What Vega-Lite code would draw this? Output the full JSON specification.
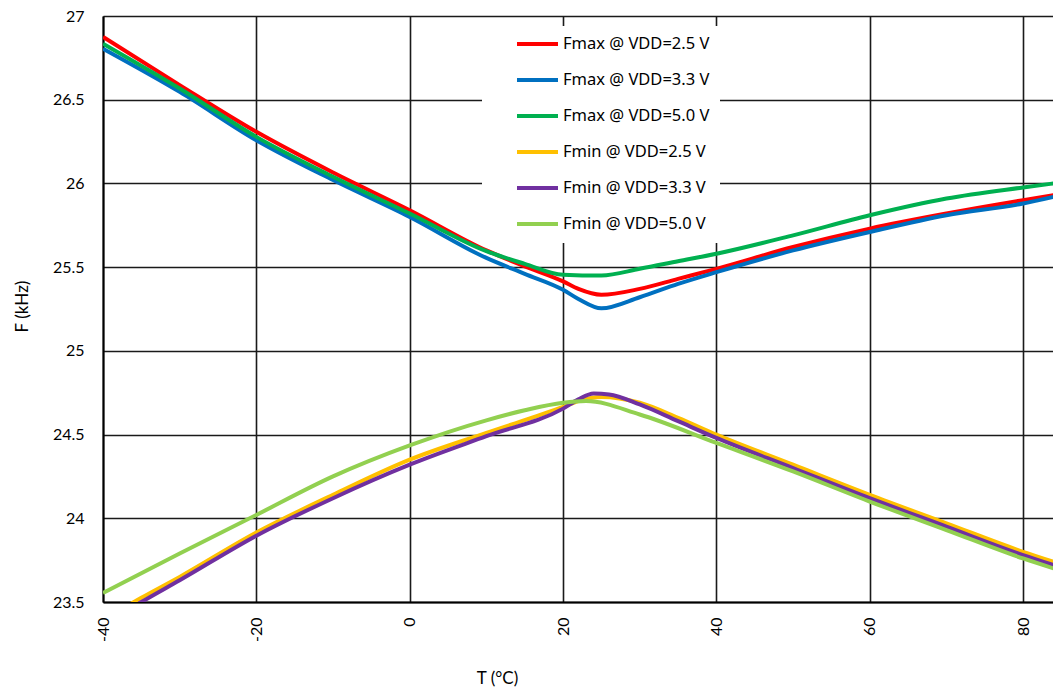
{
  "$schema": "https://vega.github.io/schema/vega-lite/v6.json",
  "autosize": {"type": "none"},
  "width": 950,
  "height": 586,
  "padding": {"left": 103, "top": 16, "right": 0, "bottom": 87},
  "background": "white",
  "config": {
    "view": {"stroke": null},
    "axis": {
      "labelFont": "Lato", "labelFontSize": 16, "labelColor": "black",
      "titleFont": "Lato", "titleFontSize": 17, "titleFontWeight": "normal", "titleColor": "black",
      "domainColor": "black", "domainWidth": 2,
      "gridColor": "#1a1a1a", "gridWidth": 1.6, "gridOpacity": 1,
      "ticks": false
    }
  },
  "data": {"values": [
    {"s": "Fmax @ VDD=2.5 V", "T": -40, "F": 26.875},
    {"s": "Fmax @ VDD=2.5 V", "T": -30, "F": 26.587},
    {"s": "Fmax @ VDD=2.5 V", "T": -20, "F": 26.308},
    {"s": "Fmax @ VDD=2.5 V", "T": -10, "F": 26.065},
    {"s": "Fmax @ VDD=2.5 V", "T": 0, "F": 25.84},
    {"s": "Fmax @ VDD=2.5 V", "T": 10, "F": 25.6},
    {"s": "Fmax @ VDD=2.5 V", "T": 15, "F": 25.505},
    {"s": "Fmax @ VDD=2.5 V", "T": 20, "F": 25.415},
    {"s": "Fmax @ VDD=2.5 V", "T": 22, "F": 25.37},
    {"s": "Fmax @ VDD=2.5 V", "T": 25, "F": 25.335},
    {"s": "Fmax @ VDD=2.5 V", "T": 30, "F": 25.37},
    {"s": "Fmax @ VDD=2.5 V", "T": 35, "F": 25.43},
    {"s": "Fmax @ VDD=2.5 V", "T": 40, "F": 25.49},
    {"s": "Fmax @ VDD=2.5 V", "T": 50, "F": 25.62},
    {"s": "Fmax @ VDD=2.5 V", "T": 60, "F": 25.73},
    {"s": "Fmax @ VDD=2.5 V", "T": 70, "F": 25.82},
    {"s": "Fmax @ VDD=2.5 V", "T": 80, "F": 25.9},
    {"s": "Fmax @ VDD=2.5 V", "T": 84, "F": 25.93},

    {"s": "Fmax @ VDD=3.3 V", "T": -40, "F": 26.805},
    {"s": "Fmax @ VDD=3.3 V", "T": -30, "F": 26.547},
    {"s": "Fmax @ VDD=3.3 V", "T": -20, "F": 26.258},
    {"s": "Fmax @ VDD=3.3 V", "T": -10, "F": 26.02},
    {"s": "Fmax @ VDD=3.3 V", "T": 0, "F": 25.8},
    {"s": "Fmax @ VDD=3.3 V", "T": 10, "F": 25.555},
    {"s": "Fmax @ VDD=3.3 V", "T": 15, "F": 25.46},
    {"s": "Fmax @ VDD=3.3 V", "T": 20, "F": 25.365},
    {"s": "Fmax @ VDD=3.3 V", "T": 22, "F": 25.31},
    {"s": "Fmax @ VDD=3.3 V", "T": 25, "F": 25.254},
    {"s": "Fmax @ VDD=3.3 V", "T": 30, "F": 25.32},
    {"s": "Fmax @ VDD=3.3 V", "T": 35, "F": 25.4},
    {"s": "Fmax @ VDD=3.3 V", "T": 40, "F": 25.47},
    {"s": "Fmax @ VDD=3.3 V", "T": 50, "F": 25.6},
    {"s": "Fmax @ VDD=3.3 V", "T": 60, "F": 25.71},
    {"s": "Fmax @ VDD=3.3 V", "T": 70, "F": 25.81},
    {"s": "Fmax @ VDD=3.3 V", "T": 80, "F": 25.88},
    {"s": "Fmax @ VDD=3.3 V", "T": 84, "F": 25.92},

    {"s": "Fmax @ VDD=5.0 V", "T": -40, "F": 26.835},
    {"s": "Fmax @ VDD=5.0 V", "T": -30, "F": 26.567},
    {"s": "Fmax @ VDD=5.0 V", "T": -20, "F": 26.278},
    {"s": "Fmax @ VDD=5.0 V", "T": -10, "F": 26.04},
    {"s": "Fmax @ VDD=5.0 V", "T": 0, "F": 25.82},
    {"s": "Fmax @ VDD=5.0 V", "T": 10, "F": 25.595},
    {"s": "Fmax @ VDD=5.0 V", "T": 15, "F": 25.52},
    {"s": "Fmax @ VDD=5.0 V", "T": 20, "F": 25.455},
    {"s": "Fmax @ VDD=5.0 V", "T": 25, "F": 25.45},
    {"s": "Fmax @ VDD=5.0 V", "T": 30, "F": 25.49},
    {"s": "Fmax @ VDD=5.0 V", "T": 35, "F": 25.535},
    {"s": "Fmax @ VDD=5.0 V", "T": 40, "F": 25.58},
    {"s": "Fmax @ VDD=5.0 V", "T": 50, "F": 25.69},
    {"s": "Fmax @ VDD=5.0 V", "T": 60, "F": 25.81},
    {"s": "Fmax @ VDD=5.0 V", "T": 70, "F": 25.91},
    {"s": "Fmax @ VDD=5.0 V", "T": 80, "F": 25.976},
    {"s": "Fmax @ VDD=5.0 V", "T": 84, "F": 26.0},

    {"s": "Fmin @ VDD=2.5 V", "T": -40, "F": 23.39},
    {"s": "Fmin @ VDD=2.5 V", "T": -35, "F": 23.525},
    {"s": "Fmin @ VDD=2.5 V", "T": -30, "F": 23.65},
    {"s": "Fmin @ VDD=2.5 V", "T": -20, "F": 23.915},
    {"s": "Fmin @ VDD=2.5 V", "T": -10, "F": 24.14},
    {"s": "Fmin @ VDD=2.5 V", "T": 0, "F": 24.35},
    {"s": "Fmin @ VDD=2.5 V", "T": 10, "F": 24.51},
    {"s": "Fmin @ VDD=2.5 V", "T": 20, "F": 24.665},
    {"s": "Fmin @ VDD=2.5 V", "T": 22, "F": 24.7},
    {"s": "Fmin @ VDD=2.5 V", "T": 25, "F": 24.725},
    {"s": "Fmin @ VDD=2.5 V", "T": 30, "F": 24.69},
    {"s": "Fmin @ VDD=2.5 V", "T": 35, "F": 24.6},
    {"s": "Fmin @ VDD=2.5 V", "T": 40, "F": 24.5},
    {"s": "Fmin @ VDD=2.5 V", "T": 50, "F": 24.32},
    {"s": "Fmin @ VDD=2.5 V", "T": 60, "F": 24.14},
    {"s": "Fmin @ VDD=2.5 V", "T": 70, "F": 23.97},
    {"s": "Fmin @ VDD=2.5 V", "T": 80, "F": 23.8},
    {"s": "Fmin @ VDD=2.5 V", "T": 84, "F": 23.74},

    {"s": "Fmin @ VDD=3.3 V", "T": -40, "F": 23.36},
    {"s": "Fmin @ VDD=3.3 V", "T": -35, "F": 23.5},
    {"s": "Fmin @ VDD=3.3 V", "T": -30, "F": 23.63},
    {"s": "Fmin @ VDD=3.3 V", "T": -20, "F": 23.896},
    {"s": "Fmin @ VDD=3.3 V", "T": -10, "F": 24.12},
    {"s": "Fmin @ VDD=3.3 V", "T": 0, "F": 24.32},
    {"s": "Fmin @ VDD=3.3 V", "T": 10, "F": 24.49},
    {"s": "Fmin @ VDD=3.3 V", "T": 20, "F": 24.655},
    {"s": "Fmin @ VDD=3.3 V", "T": 22, "F": 24.71},
    {"s": "Fmin @ VDD=3.3 V", "T": 24, "F": 24.745},
    {"s": "Fmin @ VDD=3.3 V", "T": 26, "F": 24.74},
    {"s": "Fmin @ VDD=3.3 V", "T": 30, "F": 24.68},
    {"s": "Fmin @ VDD=3.3 V", "T": 35, "F": 24.58},
    {"s": "Fmin @ VDD=3.3 V", "T": 40, "F": 24.48},
    {"s": "Fmin @ VDD=3.3 V", "T": 50, "F": 24.3},
    {"s": "Fmin @ VDD=3.3 V", "T": 60, "F": 24.12},
    {"s": "Fmin @ VDD=3.3 V", "T": 70, "F": 23.95},
    {"s": "Fmin @ VDD=3.3 V", "T": 80, "F": 23.78},
    {"s": "Fmin @ VDD=3.3 V", "T": 84, "F": 23.72},

    {"s": "Fmin @ VDD=5.0 V", "T": -40, "F": 23.554},
    {"s": "Fmin @ VDD=5.0 V", "T": -30, "F": 23.79},
    {"s": "Fmin @ VDD=5.0 V", "T": -20, "F": 24.02},
    {"s": "Fmin @ VDD=5.0 V", "T": -10, "F": 24.25},
    {"s": "Fmin @ VDD=5.0 V", "T": 0, "F": 24.435},
    {"s": "Fmin @ VDD=5.0 V", "T": 10, "F": 24.585},
    {"s": "Fmin @ VDD=5.0 V", "T": 15, "F": 24.645},
    {"s": "Fmin @ VDD=5.0 V", "T": 20, "F": 24.69},
    {"s": "Fmin @ VDD=5.0 V", "T": 23, "F": 24.7},
    {"s": "Fmin @ VDD=5.0 V", "T": 30, "F": 24.62},
    {"s": "Fmin @ VDD=5.0 V", "T": 40, "F": 24.45},
    {"s": "Fmin @ VDD=5.0 V", "T": 50, "F": 24.28},
    {"s": "Fmin @ VDD=5.0 V", "T": 60, "F": 24.1},
    {"s": "Fmin @ VDD=5.0 V", "T": 70, "F": 23.93},
    {"s": "Fmin @ VDD=5.0 V", "T": 80, "F": 23.76},
    {"s": "Fmin @ VDD=5.0 V", "T": 84, "F": 23.7}
  ]},
  "mark": {"type": "line", "strokeWidth": 4, "interpolate": "monotone", "clip": true},
  "encoding": {
    "x": {
      "field": "T", "type": "quantitative",
      "scale": {"domain": [-40, 83.9], "nice": false, "zero": false},
      "axis": {
        "values": [-40, -20, 0, 20, 40, 60, 80],
        "labelExpr": "datum.value + ''",
        "labelAngle": -90, "labelAlign": "right", "labelBaseline": "middle",
        "labelPadding": 15,
        "title": "T (°C)", "titleX": 394, "titleY": 76, "titleAlign": "center", "titleBaseline": "middle"
      }
    },
    "y": {
      "field": "F", "type": "quantitative",
      "scale": {"domain": [23.5, 27], "nice": false, "zero": false},
      "axis": {
        "values": [23.5, 24, 24.5, 25, 25.5, 26, 26.5, 27],
        "format": "~g",
        "labelPadding": 19,
        "title": "F (kHz)", "titleAngle": -90, "titleX": -81, "titleY": 290, "titleAlign": "center", "titleBaseline": "middle"
      }
    },
    "color": {
      "field": "s", "type": "nominal",
      "sort": ["Fmax @ VDD=2.5 V", "Fmax @ VDD=3.3 V", "Fmax @ VDD=5.0 V", "Fmin @ VDD=2.5 V", "Fmin @ VDD=3.3 V", "Fmin @ VDD=5.0 V"],
      "scale": {
        "domain": ["Fmax @ VDD=2.5 V", "Fmax @ VDD=3.3 V", "Fmax @ VDD=5.0 V", "Fmin @ VDD=2.5 V", "Fmin @ VDD=3.3 V", "Fmin @ VDD=5.0 V"],
        "range": ["#FF0000", "#0070C0", "#00B050", "#FFC000", "#7030A0", "#92D050"]
      },
      "legend": {
        "title": null,
        "orient": "none", "legendX": 379, "legendY": 10,
        "fillColor": "white", "padding": 10,
        "symbolType": "stroke", "symbolSize": 1681, "symbolStrokeWidth": 4,
        "symbolOffset": 23, "labelOffset": 3,
        "labelFont": "Noto Sans", "labelFontSize": 16.5, "labelColor": "black", "labelLimit": 300,
        "rowPadding": 19, "clipHeight": 16
      }
    }
  }
}
